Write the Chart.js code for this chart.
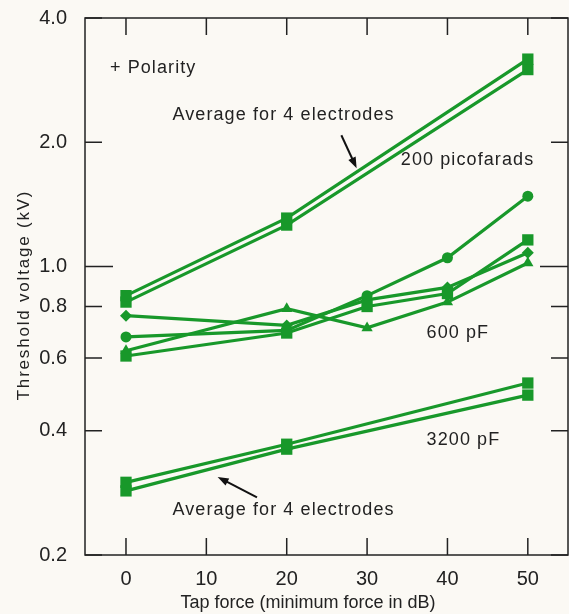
<!DOCTYPE html>
<html>
<head>
<meta charset="utf-8">
<script src="https://cdn.jsdelivr.net/npm/chart.js@4.4.1/dist/chart.umd.min.js"></script>
<style>
  html, body { margin: 0; padding: 0; background: #fbf9f4; }
  #wrap { width: 569px; height: 614px; position: relative; }
</style>
</head>
<body>
<div id="wrap"><canvas id="c"></canvas></div>
<script>
// ---- Datos ----
const tapForce = [0, 20, 30, 40, 50];
const xTicks = [0, 10, 20, 30, 40, 50];
const yTicks = [0.2, 0.4, 0.6, 0.8, 1.0, 2.0, 4.0];

// 200 pF (solo 0, 20, 50)
const x200 = [0, 20, 50];
const pf200a = [0.85, 1.31, 3.18];
const pf200b = [0.82, 1.26, 3.00];

// 600 pF, cuatro electrodos
const pf600circle = [0.675, 0.70, 0.85, 1.05, 1.48];
const pf600square = [0.607, 0.69, 0.80, 0.86, 1.16];
const pf600diamond = [0.76, 0.72, 0.83, 0.89, 1.08];
const pf600triangle = [0.625, 0.79, 0.71, 0.82, 1.02];

// 3200 pF (0, 20, 50)
const pf3200a = [0.300, 0.371, 0.522];
const pf3200b = [0.286, 0.361, 0.488];

const GREEN = '#18982a';
const INK = '#222';
const FONT = "'Liberation Sans', Arial, sans-serif";

const pts = (xs, ys) => xs.map((x, i) => ({ x, y: ys[i] }));

function series(xs, ys, style, radius) {
  return {
    data: pts(xs, ys),
    borderColor: GREEN,
    backgroundColor: GREEN,
    borderWidth: 3.2,
    pointStyle: style,
    pointRadius: radius,
    pointBorderWidth: 0,
    pointBackgroundColor: GREEN
  };
}

// ---- Marco, marcas interiores, títulos y anotaciones ----
const framePlugin = {
  id: 'frame',
  afterDatasetsDraw(chart) {
    const { ctx, chartArea: a, scales: { x, y } } = chart;
    ctx.save();
    ctx.strokeStyle = INK;
    ctx.lineWidth = 1.5;
    ctx.strokeRect(a.left, a.top, a.right - a.left, a.bottom - a.top);

    // marcas en X (arriba y abajo, hacia dentro)
    ctx.beginPath();
    xTicks.forEach(v => {
      const px = x.getPixelForValue(v);
      ctx.moveTo(px, a.top); ctx.lineTo(px, a.top + 17);
      ctx.moveTo(px, a.bottom); ctx.lineTo(px, a.bottom - 17);
    });
    // marcas en Y (izquierda y derecha)
    yTicks.forEach(v => {
      const py = y.getPixelForValue(v);
      const len = v === 1.0 ? 28 : 17;
      ctx.moveTo(a.left, py); ctx.lineTo(a.left + len, py);
      ctx.moveTo(a.right, py); ctx.lineTo(a.right - len, py);
    });
    ctx.stroke();

    // títulos de ejes
    ctx.fillStyle = INK;
    ctx.textBaseline = 'middle';
    ctx.textAlign = 'center';
    ctx.font = '18px ' + FONT;
    ctx.fillText('Tap force (minimum force in dB)', 308, 603);
    ctx.save();
    ctx.translate(24, 295);
    ctx.rotate(-Math.PI / 2);
    ctx.font = '17px ' + FONT;
    ctx.letterSpacing = '1.8px';
    ctx.fillText('Threshold voltage (kV)', 0, 0);
    ctx.restore();

    // textos
    ctx.font = '18px ' + FONT;
    ctx.letterSpacing = '1.1px';
    const put = (txt, dx, dy, align) => {
      ctx.textAlign = align;
      ctx.fillText(txt, x.getPixelForValue(dx), y.getPixelForValue(dy));
    };
    put('+ Polarity', -2.0, 3.02, 'left');
    put('Average for 4 electrodes', 19.6, 2.33, 'center');
    put('200 picofarads', 42.5, 1.81, 'center');
    put('600 pF', 37.4, 0.69, 'left');
    put('3200 pF', 37.4, 0.38, 'left');
    put('Average for 4 electrodes', 19.6, 0.257, 'center');
    ctx.letterSpacing = '0px';

    // flechas
    const arrow = (x1, y1, x2, y2) => {
      const ax = x.getPixelForValue(x1), ay = y.getPixelForValue(y1);
      const bx = x.getPixelForValue(x2), by = y.getPixelForValue(y2);
      const ang = Math.atan2(by - ay, bx - ax);
      ctx.strokeStyle = '#111';
      ctx.lineWidth = 2;
      ctx.beginPath();
      ctx.moveTo(ax, ay);
      ctx.lineTo(bx - 8 * Math.cos(ang), by - 8 * Math.sin(ang));
      ctx.stroke();
      ctx.fillStyle = '#111';
      ctx.beginPath();
      ctx.moveTo(bx, by);
      ctx.lineTo(bx - 11 * Math.cos(ang) + 4 * Math.sin(ang), by - 11 * Math.sin(ang) - 4 * Math.cos(ang));
      ctx.lineTo(bx - 11 * Math.cos(ang) - 4 * Math.sin(ang), by - 11 * Math.sin(ang) + 4 * Math.cos(ang));
      ctx.closePath();
      ctx.fill();
    };
    arrow(26.8, 2.08, 28.7, 1.73);
    arrow(16.3, 0.276, 11.4, 0.309);
    ctx.restore();
  }
};

const bgPlugin = {
  id: 'bg',
  beforeDraw(chart) {
    const { ctx, width, height } = chart;
    ctx.save();
    ctx.fillStyle = '#fbf9f4';
    ctx.fillRect(0, 0, width, height);
    ctx.restore();
  }
};

new Chart(document.getElementById('c'), {
  type: 'line',
  data: {
    datasets: [
      series(x200, pf200a, 'rect', 8),
      series(x200, pf200b, 'rect', 8),
      series(tapForce, pf600circle, 'circle', 5.5),
      series(tapForce, pf600square, 'rect', 8),
      series(tapForce, pf600diamond, 'rectRot', 6),
      series(tapForce, pf600triangle, 'triangle', 6.5),
      series(x200, pf3200a, 'rect', 8),
      series(x200, pf3200b, 'rect', 8)
    ]
  },
  options: {
    responsive: true,
    maintainAspectRatio: false,
    animation: false,
    layout: { autoPadding: false, padding: { top: 18, right: 1, left: 0, bottom: 0 } },
    plugins: { legend: { display: false }, tooltip: { enabled: false } },
    scales: {
      x: {
        type: 'linear',
        min: -5.1,
        max: 55,
        grid: { display: false },
        border: { display: false },
        afterBuildTicks: s => { s.ticks = xTicks.map(v => ({ value: v })); },
        afterFit: s => {
          s.height = 59;
          s.paddingLeft = 0;
          s.paddingRight = 0;
        },
        ticks: { color: INK, font: { size: 20, family: FONT }, padding: 4, maxRotation: 0 }
      },
      y: {
        type: 'logarithmic',
        min: 0.2,
        max: 4.0,
        grid: { display: false },
        border: { display: false },
        afterBuildTicks: s => { s.ticks = yTicks.map(v => ({ value: v })); },
        afterFit: s => {
          s.width = 85;
          s.paddingTop = 0;
          s.paddingBottom = 0;
        },
        ticks: {
          color: INK,
          font: { size: 20, family: FONT },
          padding: 10,
          callback: v => Number(v).toFixed(1)
        }
      }
    }
  },
  plugins: [bgPlugin, framePlugin]
});
</script>
</body>
</html>
